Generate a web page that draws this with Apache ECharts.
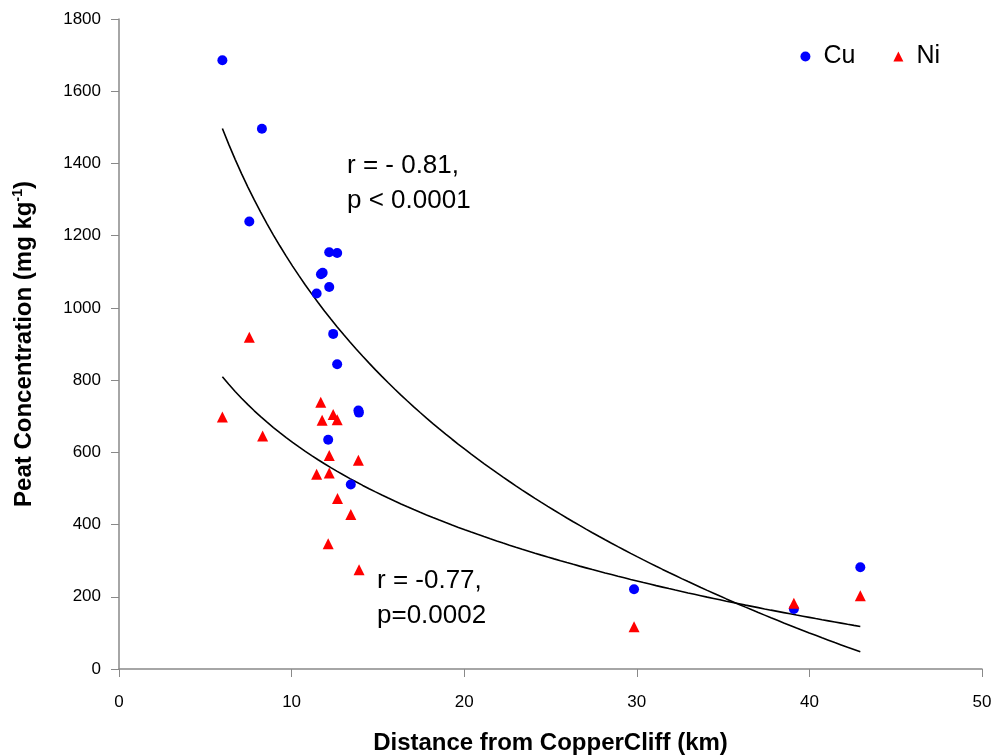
<!DOCTYPE html>
<html>
<head>
<meta charset="utf-8">
<title>Peat concentration vs distance</title>
<script src="https://cdn.jsdelivr.net/npm/echarts@6/dist/echarts.min.js"></script>
<style>
  html, body { margin: 0; padding: 0; background: #fff; }
  #main { width: 997px; height: 755px; }
</style>
</head>
<body>
<div id="main"></div>
<script>
// distance (km) and concentration (mg/kg)
var cuDist = [5.99, 8.28, 7.55, 12.18, 12.64, 11.7, 11.8, 12.18, 11.45, 12.41, 12.64, 13.87, 13.9, 12.12, 13.43, 29.84, 39.1, 42.95];
var cuConc = [1686, 1496, 1239, 1154, 1152, 1093, 1097, 1058, 1040, 928, 844, 716, 710, 635, 511, 221, 166, 282];
var niDist = [5.99, 7.55, 8.32, 11.69, 11.77, 12.41, 12.64, 12.18, 13.87, 11.45, 12.18, 12.66, 13.43, 12.12, 13.91, 29.84, 39.1, 42.95];
var niConc = [698, 919, 645, 739, 689, 705, 690, 591, 578, 539, 543, 472, 428, 347, 275, 117, 182, 203];

var xTicks = [0, 10, 20, 30, 40, 50];
var yTicks = [0, 200, 400, 600, 800, 1000, 1200, 1400, 1600, 1800];

var fontMain = '"Liberation Sans", Arial, sans-serif';

function pairs(xs, ys) {
    var out = [];
    for (var i = 0; i < xs.length; i++) out.push([xs[i], ys[i]]);
    return out;
}

// logarithmic least-squares trendline y = a + b ln(x), over the data range
function logTrend(xs, ys) {
    var n = xs.length, sl = 0, sy = 0, sll = 0, sly = 0;
    for (var i = 0; i < n; i++) {
        var l = Math.log(xs[i]);
        sl += l; sy += ys[i]; sll += l * l; sly += l * ys[i];
    }
    var b = (n * sly - sl * sy) / (n * sll - sl * sl);
    var a = (sy - b * sl) / n;
    var lo = Math.min.apply(null, xs), hi = Math.max.apply(null, xs);
    var pts = [];
    for (var k = 0; k <= 100; k++) {
        var x = lo + (hi - lo) * k / 100;
        pts.push([x, a + b * Math.log(x)]);
    }
    return pts;
}

var chart = echarts.init(document.getElementById('main'));

var option = {
    backgroundColor: '#fff',
    animation: false,
    grid: { left: 119, right: 15, top: 19, bottom: 86, outerBoundsMode: 'none' },
    legend: {
        right: 52, top: 39,
        itemWidth: 10, itemHeight: 10, itemGap: 38,
        textStyle: { fontFamily: fontMain, fontSize: 25, color: '#000', padding: [0, 0, 0, 8] },
        data: [{ name: 'Cu', icon: 'circle' }, { name: 'Ni', icon: 'triangle' }]
    },
    xAxis: {
        type: 'value', min: xTicks[0], max: xTicks[xTicks.length - 1], interval: 10,
        name: 'Distance from CopperCliff (km)',
        nameLocation: 'middle', nameGap: 62,
        nameTextStyle: { fontFamily: fontMain, fontSize: 24, fontWeight: 'bold', color: '#000' },
        axisLine: { lineStyle: { color: '#898989', width: 1.5 } },
        axisTick: { show: true, length: 8, lineStyle: { color: '#898989' } },
        axisLabel: { fontFamily: fontMain, fontSize: 17, color: '#000', margin: 25 },
        splitLine: { show: false }
    },
    yAxis: {
        type: 'value', min: yTicks[0], max: yTicks[yTicks.length - 1], interval: 200,
        name: 'Peat Concentration (mg kg{sup|-1})',
        nameLocation: 'middle', nameGap: 82,
        nameTextStyle: {
            fontFamily: fontMain, fontSize: 24, fontWeight: 'bold', color: '#000',
            rich: { sup: { fontFamily: fontMain, fontSize: 14, fontWeight: 'bold', color: '#000', verticalAlign: 'top', padding: [0, 0, 12, 0] } }
        },
        axisLine: { show: true, lineStyle: { color: '#898989', width: 1.5 } },
        axisTick: { show: true, length: 8, lineStyle: { color: '#898989' } },
        axisLabel: {
            fontFamily: fontMain, fontSize: 17, color: '#000', margin: 18,
            formatter: function (v) { return String(v); }
        },
        splitLine: { show: false }
    },
    graphic: [
        { type: 'text', left: 347, top: 148, style: { text: 'r = - 0.81,\np < 0.0001', font: '26px ' + fontMain, fill: '#000', lineHeight: 35 } },
        { type: 'text', left: 377, top: 563, style: { text: 'r = -0.77,\np=0.0002', font: '26px ' + fontMain, fill: '#000', lineHeight: 35 } }
    ],
    series: [
        {
            name: 'Cu fit', type: 'line', data: logTrend(cuDist, cuConc),
            showSymbol: false, silent: true, z: 1,
            lineStyle: { color: '#000', width: 1.6 }
        },
        {
            name: 'Ni fit', type: 'line', data: logTrend(niDist, niConc),
            showSymbol: false, silent: true, z: 1,
            lineStyle: { color: '#000', width: 1.6 }
        },
        {
            name: 'Cu', type: 'scatter', data: pairs(cuDist, cuConc),
            symbol: 'circle', symbolSize: 10, z: 3,
            itemStyle: { color: '#0000ff', opacity: 1 }
        },
        {
            name: 'Ni', type: 'scatter', data: pairs(niDist, niConc),
            symbol: 'triangle', symbolSize: 11, z: 4,
            itemStyle: { color: '#ff0000', opacity: 1 }
        }
    ]
};

chart.setOption(option);
</script>
</body>
</html>
